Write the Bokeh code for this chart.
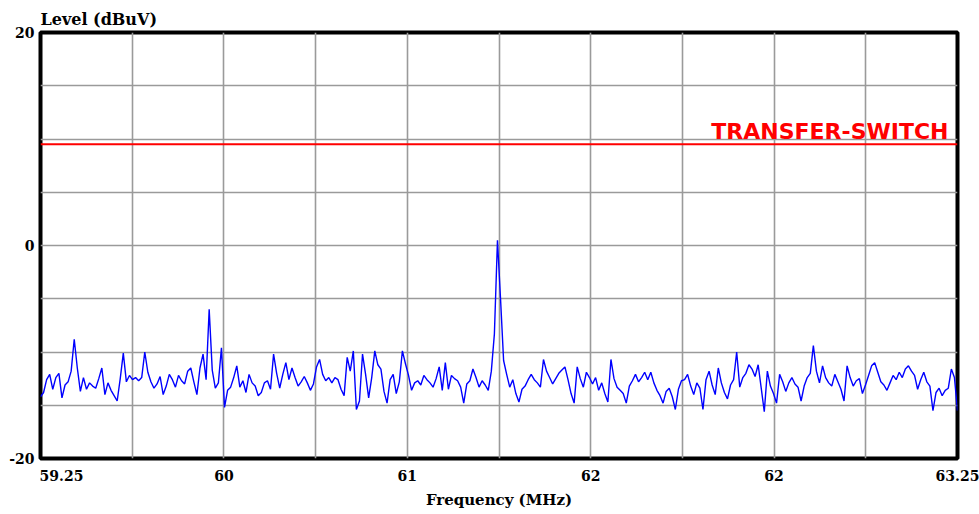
from bokeh.plotting import figure
from bokeh.models import Range1d, FixedTicker, Label, Span
from bokeh.embed import file_html
from bokeh.resources import INLINE
import numpy as np

# ---- data ----
freq_start, freq_stop = 59.25, 63.25
level_dbuv = [
    -14.2, -13.8, -12.6, -12.1, -13.5, -12.4, -12.0, -14.3, -13.1, -12.8,
    -11.8, -8.8, -11.5, -13.7, -12.4, -13.5, -12.9, -13.2, -13.4, -12.5,
    -11.5, -14.0, -12.9, -13.6, -14.1, -14.6, -12.5, -10.1, -12.8, -12.2,
    -12.6, -12.4, -12.7, -12.4, -10.0, -11.9, -12.8, -13.4, -13.0, -12.3,
    -14.0, -13.2, -12.1, -12.6, -13.3, -12.2, -12.7, -13.0, -11.8, -11.5,
    -12.8, -14.0, -11.5, -10.2, -12.6, -6.0, -11.7, -13.4, -12.9, -9.6,
    -15.2, -13.6, -13.3, -12.4, -11.3, -13.3, -12.7, -13.8, -12.1, -12.9,
    -13.2, -14.1, -13.8, -12.9, -12.7, -13.5, -10.2, -12.0, -13.4, -12.1,
    -11.0, -12.6, -11.5, -12.4, -13.2, -12.8, -12.3, -12.9, -13.6, -13.0,
    -11.4, -10.7, -12.1, -12.7, -12.4, -12.9, -12.4, -12.6, -13.5, -14.1,
    -10.5, -11.8, -9.9, -15.4, -14.6, -10.2, -12.1, -14.3, -12.4, -9.9,
    -11.2, -11.6, -13.7, -14.8, -12.6, -12.1, -13.9, -12.8, -9.9, -11.1,
    -12.2, -13.6, -12.9, -12.7, -13.1, -12.2, -12.6, -12.9, -13.3, -12.5,
    -11.4, -13.6, -11.0, -13.5, -12.2, -12.5, -12.7, -13.3, -14.8, -13.0,
    -12.7, -11.6, -12.4, -13.3, -12.7, -13.1, -13.6, -11.8, -8.3, 0.5,
    -5.0, -10.8, -12.1, -13.3, -12.6, -13.9, -14.7, -13.5, -13.2, -12.6,
    -12.1, -12.6, -12.9, -13.3, -10.7, -11.8, -12.4, -13.0, -12.5, -12.0,
    -11.7, -11.4, -12.6, -13.9, -14.8, -11.4, -12.5, -13.3, -11.9, -12.4,
    -13.0, -12.4, -13.6, -12.9, -13.9, -14.7, -10.7, -12.5, -13.3, -13.6,
    -13.9, -14.8, -13.2, -12.7, -12.1, -12.8, -12.4, -11.9, -12.6, -11.9,
    -12.9, -13.6, -14.1, -14.8, -13.7, -13.4, -14.2, -15.4, -13.5, -12.7,
    -12.6, -12.1, -13.2, -14.0, -12.9, -13.4, -15.4, -12.6, -11.8, -13.1,
    -14.0, -11.5, -12.9, -13.8, -14.4, -13.1, -12.6, -10.0, -13.3, -12.4,
    -12.0, -11.2, -11.6, -12.3, -11.2, -13.4, -15.6, -11.8, -13.2, -13.9,
    -14.8, -12.1, -12.8, -13.7, -12.9, -12.4, -13.0, -13.3, -14.6, -13.2,
    -12.4, -12.0, -9.4, -11.8, -12.9, -11.3, -12.4, -12.9, -13.2, -12.1,
    -12.8, -13.5, -14.6, -11.3, -12.4, -13.2, -12.7, -12.5, -13.9, -13.1,
    -12.2, -11.3, -11.0, -11.9, -12.8, -13.1, -13.6, -12.9, -12.2, -12.6,
    -11.9, -12.4, -11.6, -11.3, -11.8, -12.2, -13.5, -12.6, -11.9, -12.8,
    -13.2, -15.5, -13.8, -13.4, -14.1, -13.6, -13.4, -11.6, -12.4, -15.5,
]
limit_level = 9.5
limit_name = "TRANSFER-SWITCH"

x_grid = [59.25, 59.65, 60.05, 60.45, 60.85, 61.25, 61.65, 62.05, 62.45, 62.85, 63.25]
y_grid = [-20, -15, -10, -5, 0, 5, 10, 15, 20]
x_tick_pos = [59.25, 60.05, 60.85, 61.65, 62.45, 63.25]
x_tick_labels = ["59.25", "60", "61", "62", "62", "63.25"]
y_tick_pos = [20, 0, -20]
y_tick_labels = ["20", "0", "-20"]
y_title = "Level (dBuV)"
x_title = "Frequency (MHz)"

freq = np.linspace(freq_start, freq_stop, len(level_dbuv))

# ---- layout ----
W, H = 979, 514
left, right, top, bottom = 40, 22, 32, 56
frame_w = W - left - right
frame_h = H - top - bottom
px_x = (freq_stop - freq_start) / frame_w   # MHz per pixel
px_y = 40.0 / frame_h                        # dB per pixel

p = figure(width=W, height=H, output_backend="svg", toolbar_location=None,
           x_range=Range1d(freq_start, freq_stop), y_range=Range1d(-20, 20),
           min_border_left=left, min_border_right=right, min_border_top=top,
           min_border_bottom=bottom,
           background_fill_color="white", border_fill_color="white")

p.outline_line_color = "black"
p.outline_line_width = 4

serif = "DejaVu Serif"

# title (y quantity)
p.title.text = y_title
p.title.align = "left"
p.title.text_font = serif
p.title.text_font_style = "bold"
p.title.text_font_size = "16px"
p.title.text_color = "black"
p.title.offset = 0
p.title.standoff = 8

# x axis: first label is left-aligned with the frame edge in the reference
x_label_pos = list(x_tick_pos)
x_label_pos[0] = x_tick_pos[0] + 21 * px_x
p.xaxis.ticker = FixedTicker(ticks=x_label_pos)
p.xaxis.major_label_overrides = {v: t for v, t in zip(x_label_pos, x_tick_labels)}
p.xaxis.axis_label = x_title

p.yaxis.ticker = FixedTicker(ticks=y_tick_pos)
p.yaxis.major_label_overrides = {v: t for v, t in zip(y_tick_pos, y_tick_labels)}

for ax in (p.xaxis[0], p.yaxis[0]):
    ax.axis_line_color = None
    ax.major_tick_line_color = None
    ax.minor_tick_line_color = None
    ax.major_tick_out = 0
    ax.major_tick_in = 0
    ax.minor_tick_out = 0
    ax.major_label_text_font = serif
    ax.major_label_text_font_style = "bold"
    ax.major_label_text_font_size = "14px"
    ax.major_label_text_color = "black"
    ax.axis_label_text_font = serif
    ax.axis_label_text_font_style = "bold"
    ax.axis_label_text_font_size = "15px"
    ax.axis_label_text_color = "black"

p.xaxis.major_label_standoff = 11
p.xaxis.axis_label_standoff = 7
p.yaxis.major_label_standoff = 6
p.yaxis.major_label_orientation = "horizontal"

p.xgrid.ticker = FixedTicker(ticks=x_grid)
p.ygrid.ticker = FixedTicker(ticks=y_grid)
for g in (p.xgrid[0], p.ygrid[0]):
    g.grid_line_color = "#9a9a9a"
    g.grid_line_width = 1.6

p.add_layout(Span(location=limit_level, dimension="width", line_color="#ff0000", line_width=2))
p.add_layout(Label(x=freq_stop - 9 * px_x, y=limit_level + 13 * px_y, text=limit_name,
                   text_align="right", text_baseline="alphabetic",
                   text_color="#ff0000", text_font="DejaVu Sans", text_font_style="bold",
                   text_font_size="22px"))

p.line(freq, level_dbuv, line_color="#0000ff", line_width=1.4)

open("out.html", "w").write(file_html(p, INLINE))
